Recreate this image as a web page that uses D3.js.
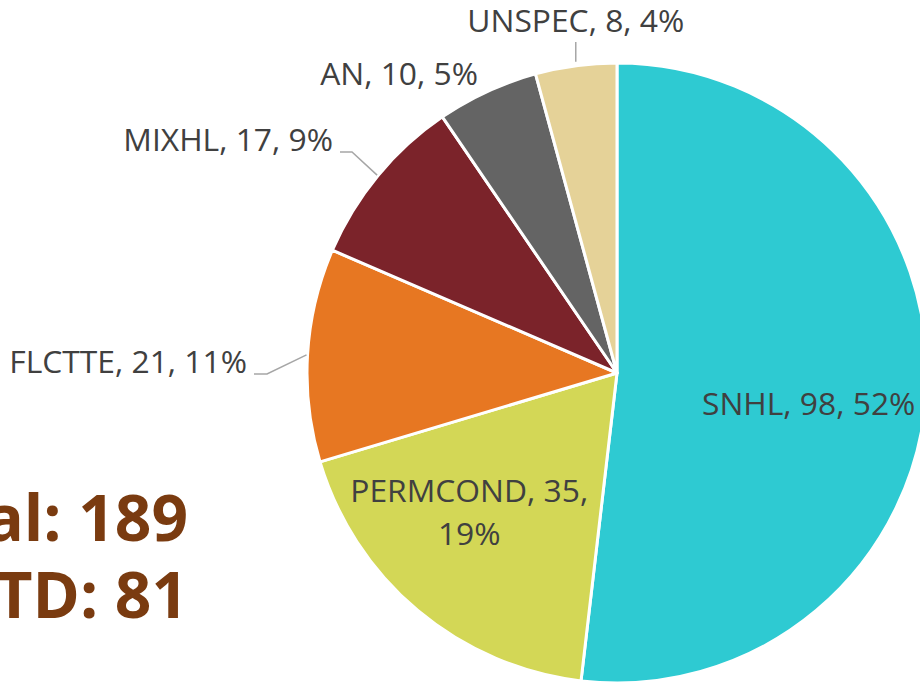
<!DOCTYPE html>
<html>
<head>
<meta charset="utf-8">
<script src="https://cdn.jsdelivr.net/npm/d3@7"></script>
<style>
  html, body { margin: 0; padding: 0; background: #fff; overflow: hidden; }
  svg { display: block; font-family: 'Open Sans', sans-serif; }
</style>
</head>
<body>
<svg id="chart" width="920" height="684"></svg>
<script>
  // data
  var categories = ['SNHL', 'PERMCOND', 'FLCTTE', 'MIXHL', 'AN', 'UNSPEC']
  var counts = [98, 35, 21, 17, 10, 8]
  var percents = ['52%', '19%', '11%', '9%', '5%', '4%']
  var colors = ['#2ecad2', '#d3d756', '#e77722', '#7b232a', '#646464', '#e5d298']
  var totalLines = ['Total: 189', 'YTD: 81']

  var width = 920, height = 684
  var cx = 617, cy = 373, radius = 310
  var textColor = '#404040'

  var svg = d3.select('#chart')
  var g = svg.append('g').attr('transform', 'translate(' + cx + ',' + cy + ')')

  var rows = categories.map(function (c, i) {
    return { name: c, value: counts[i], pct: percents[i], color: colors[i] }
  })

  var pie = d3.pie().sort(null).value(function (d) { return d.value })
  var arc = d3.arc().innerRadius(0).outerRadius(radius)
  var arcs = pie(rows)

  g.selectAll('path.slice')
    .data(arcs)
    .enter().append('path')
    .attr('class', 'slice')
    .attr('d', arc)
    .attr('fill', function (d) { return d.data.color })
    .attr('stroke', '#fff')
    .attr('stroke-width', 3)
    .attr('stroke-linejoin', 'round')

  function edgePoint(d, r) {
    var a = (d.startAngle + d.endAngle) / 2
    return [Math.sin(a) * r, -Math.cos(a) * r]
  }

  // label layout (relative to centre), hand placed like the original
  var layout = {
    SNHL: { inside: true, r: 194, dx: -2, dy: 31 },
    PERMCOND: { inside: true, r: 205, dx: -16, dy: -28, wrap: true },
    FLCTTE: { x: -370, y: 0, elbow: -350 },
    MIXHL: { x: -284, y: -222, elbow: -265 },
    AN: { x: -139, y: -288 },
    UNSPEC: { y: -341, vertical: true }
  }

  var labels = g.append('g').attr('font-size', 31.8).attr('fill', textColor)
  var leaders = g.append('g').attr('fill', 'none').attr('stroke', '#a6a6a6').attr('stroke-width', 1.5)

  arcs.forEach(function (d) {
    var L = layout[d.data.name]
    var txt = d.data.name + ', ' + d.data.value + ', ' + d.data.pct
    if (L.inside) {
      var p = edgePoint(d, L.r)
      if (L.wrap) {
        var t = labels.append('text').attr('text-anchor', 'middle')
        t.append('tspan').attr('x', p[0] + L.dx).attr('y', p[1] + L.dy).text(d.data.name + ', ' + d.data.value + ',')
        t.append('tspan').attr('x', p[0] + L.dx).attr('y', p[1] + L.dy + 43).text(d.data.pct)
      } else {
        labels.append('text').attr('text-anchor', 'middle')
          .attr('x', p[0] + L.dx).attr('y', p[1] + L.dy).text(txt)
      }
      return
    }
    var e = edgePoint(d, radius + 1)
    if (L.vertical) {
      labels.append('text').attr('text-anchor', 'middle').attr('x', e[0]).attr('y', L.y).text(txt)
      leaders.append('path').attr('d', 'M' + e[0] + ',' + (e[1] - 3) + 'V' + (L.y + 10))
    } else {
      labels.append('text').attr('text-anchor', 'end').attr('x', L.x).attr('y', L.y).text(txt)
      if (L.elbow != null) {
        var ly = L.y + 1
        leaders.append('path').attr('d', 'M' + (L.x + 7) + ',' + ly + 'H' + L.elbow + 'L' + e[0] + ',' + e[1])
      }
    }
  })

  svg.append('g')
    .attr('font-size', 64)
    .attr('font-weight', 700)
    .attr('fill', '#7a3b10')
    .attr('text-anchor', 'end')
    .selectAll('text')
    .data(totalLines)
    .enter().append('text')
    .attr('x', 188)
    .attr('y', function (d, i) { return 541 + i * 77 })
    .text(function (d) { return d })
</script>
</body>
</html>
